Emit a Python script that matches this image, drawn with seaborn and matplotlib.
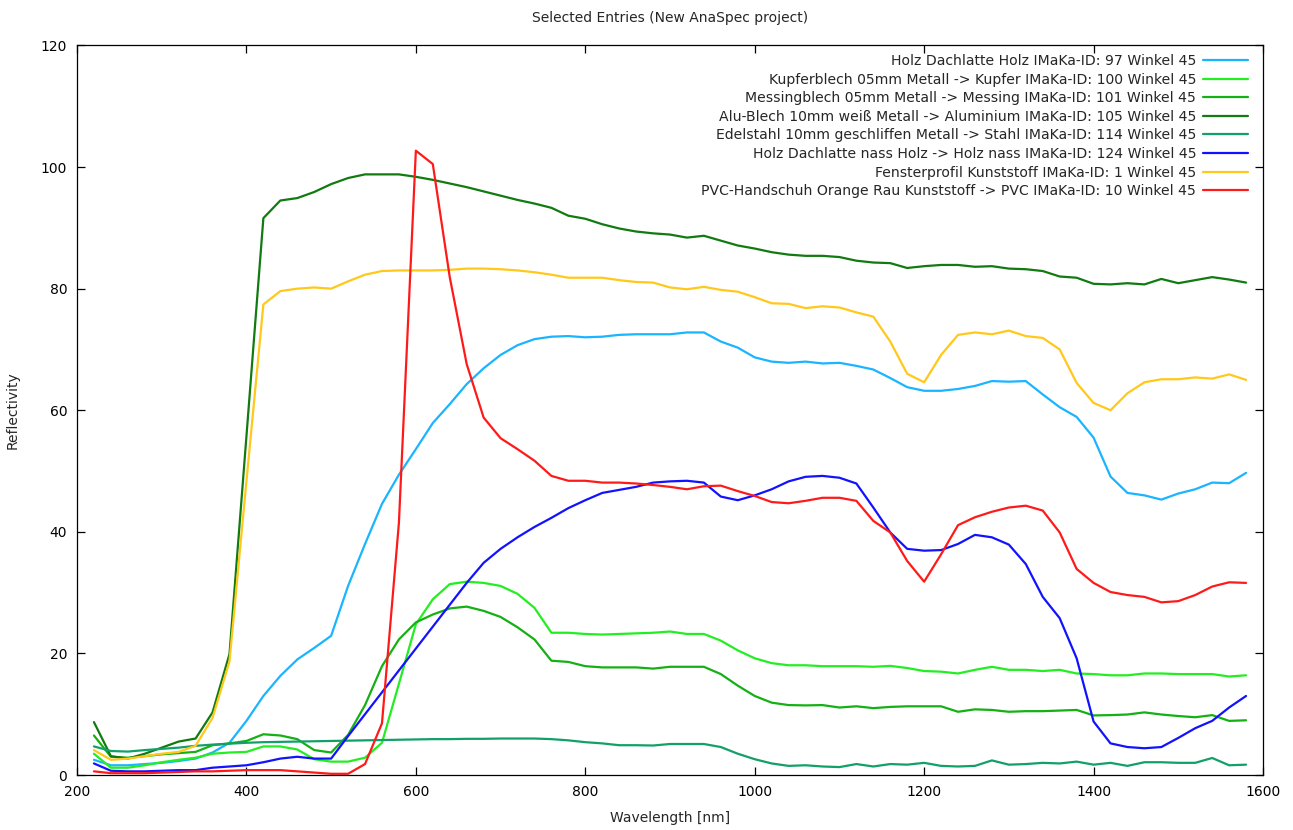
import pandas as pd
import matplotlib
matplotlib.use("Agg")
import matplotlib.pyplot as plt
import seaborn as sns

# wavelength grid in nm
wavelength = list(range(220, 1600, 20))

holz_97 = [2.5, 1.6, 1.6, 1.8, 2.0, 2.3, 2.7, 3.7, 5.3, 8.9, 13.0, 16.3, 19.0, 20.9, 22.9, 31.1, 38.0,
           44.6, 49.4, 53.6, 57.9, 61.0, 64.3, 66.9, 69.1, 70.7, 71.7, 72.1, 72.2, 72.0, 72.1, 72.4,
           72.5, 72.5, 72.5, 72.8, 72.8, 71.3, 70.3, 68.7, 68.0, 67.8, 68.0, 67.7, 67.8, 67.3, 66.7,
           65.3, 63.8, 63.2, 63.2, 63.5, 64.0, 64.8, 64.7, 64.8, 62.6, 60.5, 58.9, 55.5, 49.1, 46.4,
           46.0, 45.3, 46.3, 47.0, 48.1, 48.0, 49.7]
kupfer_100 = [3.5, 1.2, 1.2, 1.6, 2.1, 2.5, 2.85, 3.5, 3.7, 3.8, 4.7, 4.7, 4.2, 2.6, 2.2, 2.2, 2.85,
              5.3, 15.0, 24.8, 28.9, 31.4, 31.8, 31.6, 31.1, 29.8, 27.5, 23.4, 23.4, 23.2, 23.1, 23.2,
              23.3, 23.4, 23.6, 23.2, 23.2, 22.1, 20.5, 19.2, 18.4, 18.05, 18.05, 17.9, 17.9, 17.9,
              17.8, 17.95, 17.6, 17.1, 17.0, 16.7, 17.3, 17.8, 17.3, 17.3, 17.1, 17.3, 16.7, 16.6,
              16.4, 16.4, 16.7, 16.7, 16.6, 16.6, 16.6, 16.2, 16.4]
messing_101 = [6.5, 3.0, 2.85, 3.1, 3.4, 3.6, 3.8, 4.9, 5.2, 5.6, 6.7, 6.5, 5.9, 4.1, 3.7, 6.6, 11.5,
               17.9, 22.3, 25.1, 26.4, 27.4, 27.7, 27.0, 26.0, 24.3, 22.3, 18.8, 18.6, 17.9, 17.7,
               17.7, 17.7, 17.5, 17.8, 17.8, 17.8, 16.6, 14.7, 13.0, 11.9, 11.5, 11.45, 11.5, 11.1,
               11.3, 11.0, 11.2, 11.3, 11.3, 11.3, 10.4, 10.8, 10.7, 10.4, 10.5, 10.5, 10.6, 10.7,
               9.8, 9.85, 9.95, 10.3, 9.95, 9.7, 9.5, 9.85, 8.9, 9.0]
alu_105 = [8.7, 3.1, 2.7, 3.5, 4.5, 5.5, 6.0, 10.3, 19.9, 55.7, 91.6, 94.5, 94.9, 95.9, 97.2, 98.2,
           98.8, 98.8, 98.8, 98.4, 97.9, 97.3, 96.7, 96.0, 95.3, 94.6, 94.0, 93.3, 92.0, 91.5, 90.6,
           89.9, 89.4, 89.1, 88.9, 88.4, 88.7, 87.9, 87.1, 86.6, 86.0, 85.6, 85.4, 85.4, 85.2, 84.6,
           84.3, 84.2, 83.4, 83.7, 83.9, 83.9, 83.6, 83.7, 83.3, 83.2, 82.9, 82.0, 81.8, 80.8, 80.7,
           80.9, 80.7, 81.6, 80.9, 81.4, 81.9, 81.5, 81.0]
edelstahl_114 = [4.7, 3.95, 3.85, 4.1, 4.3, 4.5, 4.8, 5.0, 5.15, 5.3, 5.4, 5.45, 5.5, 5.55, 5.6, 5.65,
                 5.7, 5.75, 5.8, 5.85, 5.9, 5.9, 5.95, 5.95, 6.0, 6.0, 6.0, 5.9, 5.7, 5.4, 5.2, 4.9,
                 4.9, 4.85, 5.1, 5.1, 5.1, 4.6, 3.5, 2.6, 1.9, 1.5, 1.6, 1.4, 1.3, 1.8, 1.4, 1.8, 1.7,
                 2.0, 1.5, 1.4, 1.5, 2.4, 1.7, 1.8, 2.0, 1.9, 2.2, 1.7, 2.0, 1.5, 2.1, 2.1, 2.0, 2.0,
                 2.8, 1.6, 1.7]
holz_nass_124 = [1.9, 0.7, 0.6, 0.6, 0.7, 0.8, 0.8, 1.2, 1.4, 1.6, 2.1, 2.7, 3.0, 2.7, 2.7, 6.4, 10.0,
                 13.6, 17.2, 20.8, 24.4, 28.0, 31.6, 34.9, 37.2, 39.1, 40.8, 42.3, 43.9, 45.2, 46.4,
                 46.9, 47.4, 48.1, 48.3, 48.4, 48.1, 45.8, 45.2, 46.0, 47.0, 48.3, 49.05, 49.2, 48.9,
                 47.95, 44.0, 39.9, 37.2, 36.9, 37.0, 38.0, 39.5, 39.1, 37.9, 34.7, 29.3, 25.8, 19.2,
                 8.8, 5.2, 4.6, 4.4, 4.6, 6.1, 7.7, 8.9, 11.1, 13.0]
fenster_1 = [4.1, 2.5, 2.7, 3.1, 3.5, 3.8, 4.8, 9.4, 18.7, 48.3, 77.4, 79.6, 80.0, 80.2, 80.0, 81.2,
             82.3, 82.9, 83.0, 83.0, 83.0, 83.1, 83.3, 83.3, 83.2, 83.0, 82.7, 82.3, 81.8, 81.8, 81.8,
             81.4, 81.1, 81.0, 80.2, 79.9, 80.3, 79.8, 79.5, 78.6, 77.6, 77.5, 76.8, 77.1, 76.9, 76.1,
             75.4, 71.3, 66.0, 64.6, 69.1, 72.4, 72.8, 72.5, 73.1, 72.2, 71.9, 70.0, 64.5, 61.2, 60.0,
             62.8, 64.6, 65.1, 65.1, 65.4, 65.2, 65.9, 65.0]
pvc_10 = [0.6, 0.3, 0.3, 0.3, 0.4, 0.5, 0.6, 0.6, 0.7, 0.8, 0.8, 0.8, 0.6, 0.4, 0.2, 0.2, 1.8, 8.5,
          41.5, 102.7, 100.5, 81.9, 67.6, 58.8, 55.4, 53.6, 51.7, 49.2, 48.4, 48.4, 48.1, 48.1, 47.95,
          47.7, 47.4, 47.0, 47.5, 47.6, 46.7, 45.9, 44.9, 44.7, 45.1, 45.6, 45.6, 45.1, 41.8, 39.9,
          35.2, 31.8, 36.3, 41.1, 42.4, 43.3, 44.0, 44.3, 43.5, 39.9, 33.9, 31.6, 30.1, 29.6, 29.3,
          28.4, 28.6, 29.6, 31.0, 31.7, 31.6]

labels = [
    "Holz Dachlatte Holz IMaKa-ID: 97 Winkel 45",
    "Kupferblech 05mm Metall -> Kupfer IMaKa-ID: 100 Winkel 45",
    "Messingblech 05mm Metall -> Messing IMaKa-ID: 101 Winkel 45",
    "Alu-Blech 10mm weiß Metall -> Aluminium IMaKa-ID: 105 Winkel 45",
    "Edelstahl 10mm geschliffen Metall -> Stahl IMaKa-ID: 114 Winkel 45",
    "Holz Dachlatte nass Holz -> Holz nass IMaKa-ID: 124 Winkel 45",
    "Fensterprofil Kunststoff IMaKa-ID: 1 Winkel 45",
    "PVC-Handschuh Orange Rau Kunststoff -> PVC IMaKa-ID: 10 Winkel 45",
]
series = [holz_97, kupfer_100, messing_101, alu_105, edelstahl_114, holz_nass_124, fenster_1, pvc_10]
colors = ["#1ab4ff", "#22ee22", "#14b014", "#117a11", "#12a06a", "#1212ff", "#ffc81a", "#ff1a1a"]

frames = []
for lab, vals in zip(labels, series):
    frames.append(pd.DataFrame({"wavelength": wavelength, "reflectivity": vals, "entry": lab}))
df = pd.concat(frames, ignore_index=True)

sns.set_style("ticks")
plt.rcParams["font.family"] = ["DejaVu Sans"]
plt.rcParams["font.size"] = 10

fig = plt.figure(figsize=(12.93, 8.30), dpi=100)
ax = fig.add_axes([77 / 1293, 1 - 775 / 830, (1263 - 77) / 1293, (775 - 45.5) / 830])

sns.lineplot(data=df, x="wavelength", y="reflectivity", hue="entry", hue_order=labels,
             palette=dict(zip(labels, colors)), linewidth=1.6, sort=False, ax=ax)

ax.set_xlim(200, 1600)
ax.set_ylim(0, 120)
ax.set_xticks(range(200, 1601, 200))
ax.set_yticks(range(0, 121, 20))
ax.tick_params(direction="in", top=True, right=True, length=5.5, width=0.9,
               labelsize=10, colors="black", pad=7)
for s in ax.spines.values():
    s.set_linewidth(0.9)
    s.set_color("black")

ax.set_title("Selected Entries (New AnaSpec project)", fontsize=10, pad=17)
ax.set_xlabel("Wavelength [nm]", fontsize=10, labelpad=9)
ax.set_ylabel("Reflectivity", fontsize=10, labelpad=15)

handles, labs = ax.get_legend_handles_labels()
ax.legend(handles, labs, loc="upper right", bbox_to_anchor=(0.9874, 0.9885), frameon=False,
          markerfirst=False, fontsize=10.1, handlelength=3.2, handletextpad=0.5,
          labelspacing=0.33, borderpad=0, borderaxespad=0)

fig.savefig("out.png", dpi=100)
